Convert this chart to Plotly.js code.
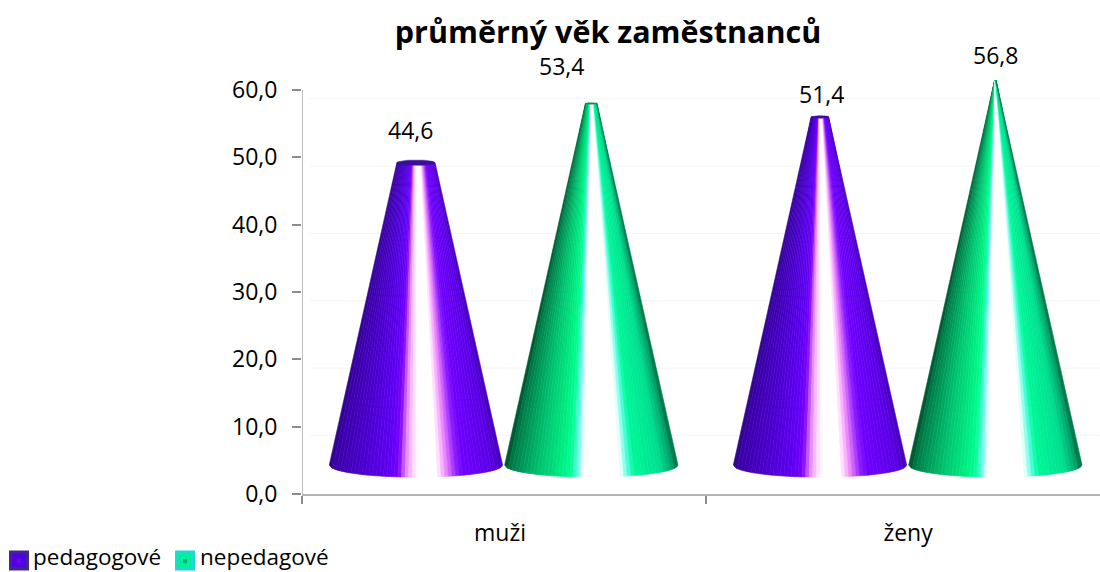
<!DOCTYPE html>
<html>
<head>
<meta charset="utf-8">
<script src="https://cdn.plot.ly/plotly-3.0.1.min.js"></script>
<style>html,body{margin:0;padding:0;background:#fff;overflow:hidden}#c{width:1100px;height:572px}</style>
</head>
<body>
<div id="c"></div>
<script>
var categories = ["muži", "ženy"];
var seriesNames = ["pedagogové", "nepedagové"];
var pedagogove = [44.6, 51.4];
var nepedagove = [53.4, 56.8];
var yTicks = [0, 10, 20, 30, 40, 50, 60];
var titleText = "průměrný věk zaměstnanců";

// drawing constants of the 3-D look (perspective lift, cone proportions)
var FONT = "'Open Sans', sans-serif";
var LIFT = 4.6, BASE_Y = 4.3, APEX_Y = 61.9, BASE_HALF = 0.2145, ELL = 1.8;
var CENTER_OFFSET = [0.282, 0.716];
var SLICES = 48;
var stopsP = [[-1,"#2c0a80"],[-0.94,"#3c00a8"],[-0.6,"#4c00d0"],[-0.3,"#6000f4"],[-0.2,"#7c00ff"],[-0.12,"#e080ff"],[-0.04,"#ffd0ff"],[0.03,"#ffffff"],[0.24,"#ffffff"],[0.3,"#ffc0ff"],[0.38,"#e070ff"],[0.47,"#9020ff"],[0.55,"#7000ff"],[0.9,"#5a00e4"],[1,"#4400b8"]];
var stopsG = [[-1,"#004f2c"],[-0.92,"#007e4a"],[-0.6,"#00c472"],[-0.4,"#00e47c"],[-0.24,"#00ff90"],[-0.16,"#60ffe8"],[-0.09,"#ffffff"],[0.34,"#ffffff"],[0.43,"#50ffe0"],[0.5,"#00f898"],[0.8,"#00e090"],[0.93,"#00a870"],[1,"#006a40"]];

function hex(c){return [parseInt(c.slice(1,3),16),parseInt(c.slice(3,5),16),parseInt(c.slice(5,7),16)];}
function shade(stops,t){
  for(var i=0;i<stops.length-1;i++){
    if(t<=stops[i+1][0]){
      var f=(t-stops[i][0])/(stops[i+1][0]-stops[i][0]),a=hex(stops[i][1]),b=hex(stops[i+1][1]);
      return "rgb("+[0,1,2].map(function(k){return Math.round(a[k]+(b[k]-a[k])*f);}).join(",")+")";
    }
  }
  return stops[stops.length-1][1];
}
var traces = [];

// faint back-wall gridlines, displaced by the perspective
var gx=[],gy=[];
yTicks.slice(1).forEach(function(v){gx.push(0.02,1.975,null);gy.push(v-1.3,v-1.3,null);});
traces.push({type:"scatter",mode:"lines",x:gx,y:gy,line:{color:"#f5f5f5",width:1},showlegend:false,hoverinfo:"skip"});
// value axis line stops at the top tick
traces.push({type:"scatter",mode:"lines",x:[0,0],y:[yTicks[0],yTicks[yTicks.length-1]],line:{color:"#bfbfbf",width:2},showlegend:false,hoverinfo:"skip",cliponaxis:false});

function cone(cx,val,stops,capColor){
  var top=val+LIFT;
  var k=(APEX_Y-top)/(APEX_Y-BASE_Y);
  for(var i=0;i<SLICES;i++){
    var t0=-1+2*i/SLICES,t1=-1+2*(i+1)/SLICES,mid=(t0+t1)/2;
    var xs=[],ys=[],n=3,j,t;
    for(j=0;j<=n;j++){t=t0+(t1-t0)*j/n;xs.push(cx+t*BASE_HALF);ys.push(BASE_Y-ELL*Math.sqrt(Math.max(0,1-t*t)));}
    xs.push(cx+t1*BASE_HALF*k,cx+t0*BASE_HALF*k,xs[0]);
    ys.push(top,top,ys[0]);
    var col=shade(stops,mid);
    traces.push({type:"scatter",mode:"lines",x:xs,y:ys,fill:"toself",fillcolor:col,line:{color:col,width:0.6},showlegend:false,hoverinfo:"skip"});
  }
  var cxs=[],cys=[];
  for(var a=0;a<=36;a++){var th=a/36*2*Math.PI;cxs.push(cx+Math.cos(th)*BASE_HALF*k);cys.push(top+Math.sin(th)*ELL*k);}
  traces.push({type:"scatter",mode:"lines",x:cxs,y:cys,fill:"toself",fillcolor:capColor,line:{color:capColor,width:0.5},showlegend:false,hoverinfo:"skip"});
}
categories.forEach(function(c,i){
  cone(i+CENTER_OFFSET[0],pedagogove[i],stopsP,"#3a0f98");
  cone(i+CENTER_OFFSET[1],nepedagove[i],stopsG,"#0b8a5a");
});

// value labels, placed as in the source chart
function fmt(v){return v.toFixed(1).replace(".",",");}
var labelShift=[[{dx:-0.014,dy:9.5},{dx:-0.074,dy:10.2}],[{dx:0.004,dy:8},{dx:0,dy:8.4}]];
var annotations=[];
categories.forEach(function(c,i){
  [pedagogove,nepedagove].forEach(function(s,j){
    annotations.push({xref:"x",yref:"y",x:i+CENTER_OFFSET[j]+labelShift[i][j].dx,y:s[i]+labelShift[i][j].dy,text:fmt(s[i]),showarrow:false,xanchor:"center",yanchor:"middle",font:{family:FONT,size:23,color:"#000"}});
  });
});

// legend row in the bottom-left corner (plot area: 302..1100 px wide, top at 45, bottom at 494)
var PL=302, PW=798, PT=45, PH=449;
function px(x){return (x-PL)/PW;}
function py(y){return (PT+PH-y)/PH;}
var legendFill=["#5200e0","#00f0a0"], legendEdge=["#3f2a8c","#20d8d0"], legendCore=["#6a00ff","#00a870"];
var legendSwatchX=[9,175], legendTextX=[31,198];
var shapes=[];
seriesNames.forEach(function(n,i){
  var x0=legendSwatchX[i];
  shapes.push({type:"rect",xref:"paper",yref:"paper",x0:px(x0+1.5),x1:px(x0+18.5),y0:py(569),y1:py(552),fillcolor:legendFill[i],line:{color:legendEdge[i],width:3}});
  shapes.push({type:"rect",xref:"paper",yref:"paper",x0:px(x0+8),x1:px(x0+12),y0:py(563),y1:py(559),fillcolor:legendCore[i],line:{width:0}});
  annotations.push({xref:"paper",yref:"paper",x:px(legendTextX[i]),y:py(556),text:n,showarrow:false,xanchor:"left",yanchor:"middle",font:{family:FONT,size:22.5,color:"#000"}});
});

var layout={
  width:1100,height:572,
  margin:{l:PL,r:0,t:PT,b:78,pad:0},
  paper_bgcolor:"#fff",plot_bgcolor:"#fff",
  separators:", ",
  font:{family:FONT,size:23,color:"#000"},
  title:{text:titleText,x:608/1100,xanchor:"center",xref:"container",y:1-32/572,yanchor:"middle",yref:"container",font:{family:FONT,size:30.5,weight:700,color:"#000"}},
  xaxis:{range:[0,1.975],tickmode:"array",tickvals:[0.49,1.5],ticktext:categories,ticks:"",showgrid:false,zeroline:false,showline:true,linecolor:"#b4b4b4",linewidth:2,ticklabelstandoff:17,tickfont:{family:FONT,size:23,color:"#000"},
    minor:{tickmode:"array",tickvals:[0,1],ticks:"outside",ticklen:8,tickwidth:1.5,tickcolor:"#8c8c8c",showgrid:false}},
  yaxis:{range:[0,66.68],tickmode:"array",tickvals:yTicks,tickformat:".1f",ticks:"outside",ticklen:9,tickwidth:1.5,tickcolor:"#8c8c8c",showgrid:false,zeroline:false,showline:false,ticklabelstandoff:10,tickfont:{family:FONT,size:23,color:"#000"}},
  annotations:annotations,
  shapes:shapes,
  showlegend:false,hovermode:false
};
Plotly.newPlot("c",traces,layout,{displayModeBar:false,responsive:false});
</script>
</body>
</html>
